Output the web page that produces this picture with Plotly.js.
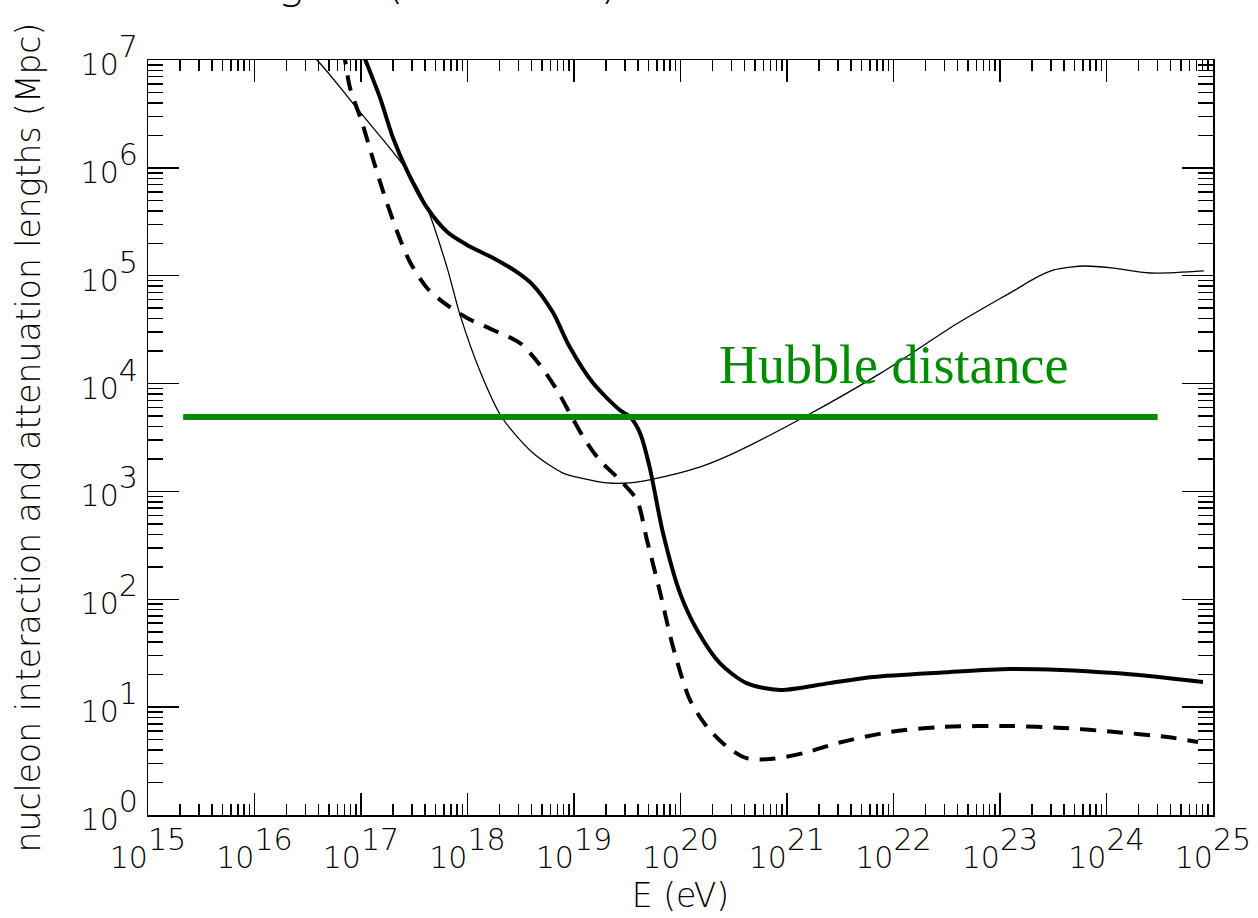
<!DOCTYPE html>
<html>
<head>
<meta charset="utf-8">
<script src="https://cdn.plot.ly/plotly-3.0.1.min.js"></script>
<style>
  html, body { margin: 0; padding: 0; background: #fff; }
  #chart { width: 1258px; height: 918px; }
</style>
</head>
<body>
<div id="chart"></div>
<script>
// Nucleon energy (eV) and lengths (Mpc)
// Interaction length (thin line)
const interactionE = [2.0e16, 3.86e16, 9.77e16, 2.69e17, 4.17e17, 6.46e17, 8.51e17, 1.32e18, 2.09e18,
  4.12e18, 7.89e18, 1.17e19, 2.04e19, 3.36e19, 5.50e19, 1.51e20, 2.92e20, 1.45e21, 7.59e21, 4.04e22,
  1.38e23, 2.14e23, 3.21e23, 4.57e23, 6.31e23, 1.12e24, 2.57e24, 8.22e24];
const interactionL = [1.78e7, 1.0e7, 3.30e6, 9.55e5, 4.27e5, 1.17e5, 4.33e4, 1.28e4, 4.9e3,
  2.27e3, 1.48e3, 1.33e3, 1.20e3, 1.20e3, 1.30e3, 1.68e3, 2.18e3, 4.9e3, 1.25e4, 3.64e4,
  7.36e4, 9.5e4, 1.13e5, 1.2e5, 1.23e5, 1.18e5, 1.06e5, 1.11e5];

// Attenuation length (thick solid line)
const attenE = [7.94e16, 1.10e17, 1.51e17, 2.0e17, 2.69e17, 4.17e17, 6.46e17, 9.89e17, 1.74e18,
  2.92e18, 4.12e18, 6.31e18, 9.12e18, 1.51e19, 2.69e19, 3.36e19, 4.17e19, 5.13e19, 6.85e19,
  9.89e19, 1.43e20, 2.34e20, 4.17e20, 8.59e20, 2.51e21, 6.46e21, 2.85e22, 1.26e23, 1.20e24, 8.05e24];
const attenL = [2.24e7, 1.0e7, 4.45e6, 1.89e6, 9.55e5, 4.27e5, 2.54e5, 1.93e5, 1.46e5,
  1.08e5, 8.2e4, 4.6e4, 2.18e4, 1.01e4, 5.69e3, 4.9e3, 3.47e3, 1.68e3, 411,
  114, 51.9, 25.6, 16.7, 14.4, 16.7, 19.0, 20.9, 22.6, 20.7, 17.1];

// Second attenuation length (thick dashed line)
const atten2E = [6.03e16, 7.08e16, 7.89e16, 1.02e17, 1.26e17, 1.62e17, 2.19e17, 2.88e17, 4.17e17,
  5.89e17, 9.89e17, 1.74e18, 3.09e18, 4.79e18, 6.92e18, 9.12e18, 1.22e19, 1.74e19, 2.69e19,
  3.89e19, 4.84e19, 6.46e19, 8.51e19, 1.23e20, 1.78e20, 2.75e20, 4.17e20, 6.92e20, 1.45e21,
  3.02e21, 9.33e21, 2.85e22, 1.26e23, 3.89e23, 1.20e24, 3.72e24, 7.24e24];
const atten2L = [2.24e7, 1.0e7, 5.5e6, 2.66e6, 1.32e6, 5.97e5, 2.54e5, 1.34e5, 7.69e4,
  5.7e4, 4.06e4, 3.14e4, 2.38e4, 1.49e4, 8.7e3, 5.33e3, 3.2e3, 1.95e3, 1.28e3,
  832, 355, 114, 36.1, 11.6, 6.55, 4.27, 3.37, 3.30, 3.76,
  4.66, 5.89, 6.55, 6.68, 6.41, 5.89, 5.28, 4.75];

// Hubble distance
const hubbleE = [2.14e15, 3.02e24];
const hubbleL = [4.9e3, 4.9e3];
const hubbleLabel = 'Hubble distance';

// Axis ticks
const xTickExp = [15, 16, 17, 18, 19, 20, 21, 22, 23, 24, 25];
const yTickExp = [0, 1, 2, 3, 4, 5, 6, 7];

const axisFont = 'DejaVu Sans, sans-serif';
const green = '#008c00';

function powLabel(e) {
  return '<span style="font-size:30px">10</span><sup>' + e + '</sup>';
}
function minorVals(lo, hi) {
  const v = [];
  for (let d = lo; d < hi; d++) for (let k = 2; k <= 9; k++) v.push(k * Math.pow(10, d));
  return v;
}

const traces = [
  { x: interactionE, y: interactionL, type: 'scatter', mode: 'lines',
    line: { color: '#000', width: 1.3, shape: 'spline', smoothing: 0.8 }, hoverinfo: 'skip' },
  { x: attenE, y: attenL, type: 'scatter', mode: 'lines',
    line: { color: '#000', width: 4, shape: 'spline', smoothing: 0.8 }, hoverinfo: 'skip' },
  { x: atten2E, y: atten2L, type: 'scatter', mode: 'lines',
    line: { color: '#000', width: 4, shape: 'spline', smoothing: 0.8, dash: '16px,11px' }, hoverinfo: 'skip' },
  { x: hubbleE, y: hubbleL, type: 'scatter', mode: 'lines',
    line: { color: green, width: 6 }, hoverinfo: 'skip' }
];

const tickCommon = {
  type: 'log', showgrid: false, zeroline: false,
  showline: true, linecolor: '#000', linewidth: 1.5, mirror: 'allticks',
  ticks: 'inside', tickcolor: '#000', tickwidth: 1.5, tickmode: 'array',
  tickfont: { family: axisFont, size: 43, color: '#000', weight: 200 }
};

const layout = {
  width: 1258, height: 918,
  margin: { l: 148, r: 45, t: 60, b: 103 },
  paper_bgcolor: '#fff', plot_bgcolor: '#fff',
  showlegend: false,
  xaxis: Object.assign({}, tickCommon, {
    range: [15, 25],
    tickvals: xTickExp.map(e => Math.pow(10, e)),
    ticktext: xTickExp.map(powLabel),
    ticklen: 22,
    minor: { tickmode: 'array', tickvals: minorVals(15, 25), ticks: 'inside', ticklen: 11,
             tickwidth: 1.5, tickcolor: '#000', showgrid: false },
    title: { text: 'E (eV)', font: { family: axisFont, size: 33, color: '#000', weight: 200 }, standoff: 10 }
  }),
  yaxis: Object.assign({}, tickCommon, {
    range: [0, 7],
    tickvals: yTickExp.map(e => Math.pow(10, e)),
    ticktext: yTickExp.map(powLabel),
    ticklen: 31,
    minor: { tickmode: 'array', tickvals: minorVals(0, 7), ticks: 'inside', ticklen: 15,
             tickwidth: 1.5, tickcolor: '#000', showgrid: false },
    title: { text: 'nucleon interaction and attenuation lengths (Mpc)',
             font: { family: axisFont, size: 33, color: '#000', weight: 200 }, standoff: 30 }
  }),
  annotations: [
    { text: hubbleLabel, xref: 'x', yref: 'y', x: 22, y: 4.17, showarrow: false,
      font: { family: 'Liberation Serif, Times New Roman, serif', size: 54, color: green },
      xanchor: 'center', yanchor: 'middle' },
    { text: 'Interaction lengths (nucleons)', xref: 'paper', yref: 'paper', x: 0.443, y: 1.066,
      xanchor: 'right', yanchor: 'bottom', showarrow: false,
      font: { family: axisFont, size: 44, color: '#000', weight: 200 } }
  ]
};

Plotly.newPlot('chart', traces, layout, { staticPlot: true, displayModeBar: false });
</script>
</body>
</html>
